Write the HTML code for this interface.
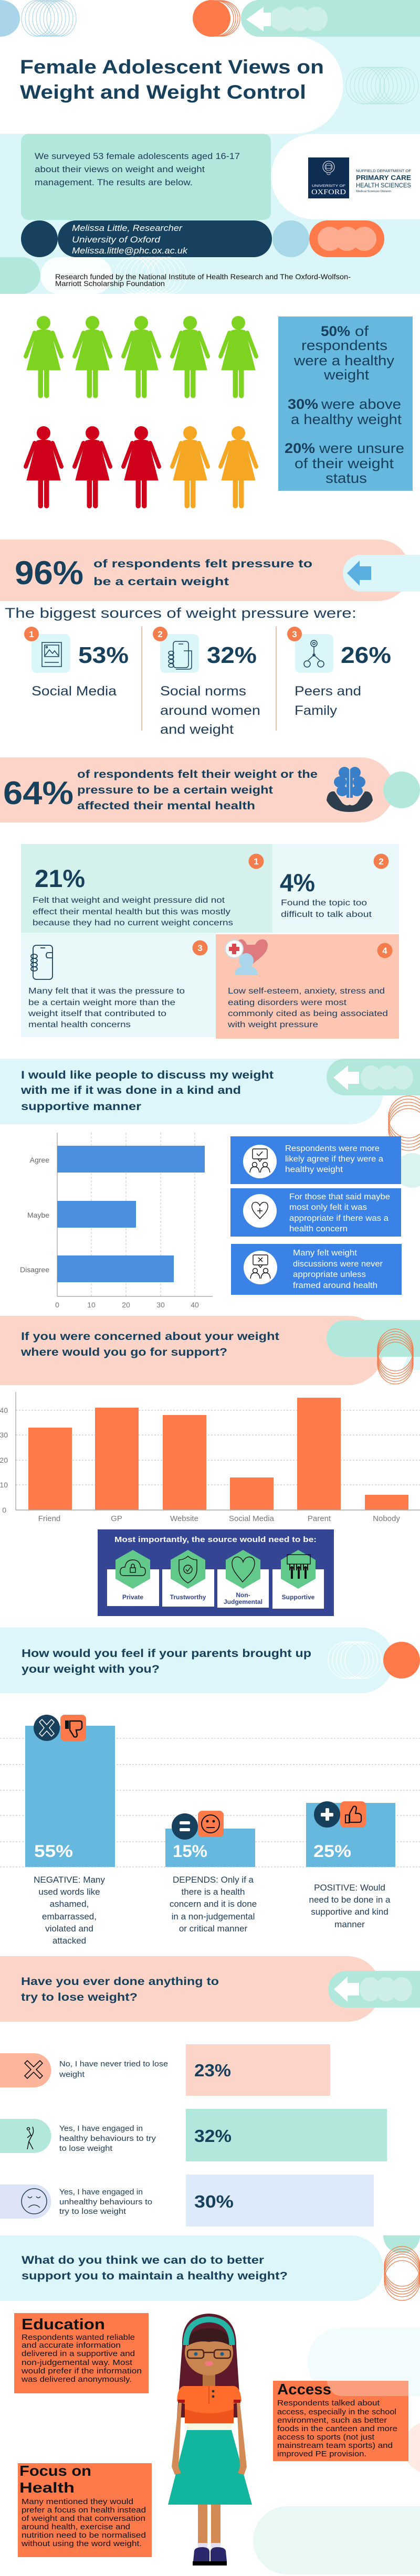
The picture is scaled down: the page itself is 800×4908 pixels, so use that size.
<!DOCTYPE html>
<html><head><meta charset="utf-8"><title>Female Adolescent Views on Weight and Weight Control</title>
<style>
html,body{margin:0;padding:0;background:#fff;}
svg{display:block;}
text{font-family:"Liberation Sans",sans-serif;}
.h{font-weight:700;fill:#17405c;}
.b{fill:#1e3c58;}
.w{fill:#fff;}
.k{fill:#111;}
</style></head><body>
<svg width="800" height="4908" viewBox="0 0 800 4908" xmlns="http://www.w3.org/2000/svg">
<rect x="0" y="0" width="800" height="4908" fill="#fff"/>

<!-- ===== TOP BAND ===== -->
<ellipse cx="0" cy="35" rx="38" ry="35" fill="#a8d5ea"/>
<g fill="none" stroke="#9fd0e7" stroke-width="1">
<ellipse cx="69" cy="35" rx="28" ry="34"/><ellipse cx="76" cy="35" rx="28" ry="34"/><ellipse cx="83" cy="35" rx="28" ry="34"/><ellipse cx="90" cy="35" rx="28" ry="34"/><ellipse cx="97" cy="35" rx="28" ry="34"/><ellipse cx="104" cy="35" rx="28" ry="34"/><ellipse cx="111" cy="35" rx="28" ry="34"/><ellipse cx="117" cy="35" rx="28" ry="34"/>
</g>
<g fill="none" stroke="#f47a4d" stroke-width="1.2">
<ellipse cx="421" cy="35" rx="36" ry="34"/><ellipse cx="417" cy="35" rx="36" ry="34"/><ellipse cx="413" cy="35" rx="36" ry="34"/><ellipse cx="409" cy="35" rx="36" ry="34"/>
</g>
<ellipse cx="403" cy="35" rx="36" ry="35" fill="#fe7a4a"/>
<path d="M494 0 H800 V70 H494 A35 35 0 0 1 494 0 Z" fill="#b2e7dc"/>
<g fill="#fff" opacity="0.35"><ellipse cx="536" cy="36" rx="22" ry="23"/><ellipse cx="569" cy="36" rx="22" ry="23"/><ellipse cx="602" cy="36" rx="22" ry="23"/></g>
<polygon points="469,37 502,13 502,24 516,24 516,50 502,50 502,60" fill="#fff"/>

<!-- ===== HEADER AREA ===== -->
<rect x="0" y="70" width="800" height="490" fill="#dbf6f8"/>
<path d="M0 70 H561 A92.5 92.5 0 0 1 561 255 H0 Z" fill="#fff"/>
<g fill="none" stroke="#b5e8de" stroke-width="1">
<ellipse cx="692" cy="163" rx="33" ry="35"/><ellipse cx="700" cy="163" rx="33" ry="35"/><ellipse cx="708" cy="163" rx="33" ry="35"/><ellipse cx="716" cy="163" rx="33" ry="35"/><ellipse cx="724" cy="163" rx="33" ry="35"/><ellipse cx="732" cy="163" rx="33" ry="35"/><ellipse cx="740" cy="163" rx="33" ry="35"/><ellipse cx="748" cy="163" rx="33" ry="35"/><ellipse cx="756" cy="163" rx="33" ry="35"/><ellipse cx="764" cy="163" rx="33" ry="35"/>
</g>
<text class="h" x="38" y="140" font-size="37" textLength="579" lengthAdjust="spacingAndGlyphs">Female Adolescent Views on</text>
<text class="h" x="38" y="188" font-size="37" textLength="545" lengthAdjust="spacingAndGlyphs">Weight and Weight Control</text>

<rect x="40" y="255" width="476" height="164" rx="14" fill="#b2e8dc"/>
<path d="M598 255 H800 V418 H598 A81.5 81.5 0 0 1 598 255 Z" fill="#fff"/>
<text class="b" x="66" y="303" font-size="17" textLength="391" lengthAdjust="spacingAndGlyphs">We surveyed 53 female adolescents aged 16-17</text>
<text class="b" x="66" y="328" font-size="17" textLength="324" lengthAdjust="spacingAndGlyphs">about their views on weight and weight</text>
<text class="b" x="66" y="353" font-size="17" textLength="301" lengthAdjust="spacingAndGlyphs">management.  The results are below.</text>

<!-- Oxford logo -->
<rect x="587" y="300" width="78" height="78" fill="#0f2c52"/>
<circle cx="626" cy="318" r="11" fill="none" stroke="#fff" stroke-width="1"/>
<circle cx="626" cy="318" r="7" fill="none" stroke="#fff" stroke-width="0.8"/>
<rect x="621" y="315" width="10" height="6" fill="none" stroke="#fff" stroke-width="0.8"/>
<path d="M622 330 Q626 336 630 330" fill="none" stroke="#fff" stroke-width="0.8"/>
<text class="w" x="594" y="356" font-size="6" textLength="64" lengthAdjust="spacingAndGlyphs">UNIVERSITY OF</text>
<text class="w" x="593" y="370" font-size="14" font-family="Liberation Serif,serif" style="font-family:'Liberation Serif',serif" textLength="66" lengthAdjust="spacingAndGlyphs">OXFORD</text>
<text x="678" y="328" font-size="7.5" fill="#17405c" textLength="105" lengthAdjust="spacingAndGlyphs">NUFFIELD DEPARTMENT OF</text>
<text x="678" y="343" font-size="13" font-weight="700" fill="#17405c" textLength="105" lengthAdjust="spacingAndGlyphs">PRIMARY CARE</text>
<text x="678" y="357" font-size="12" fill="#17405c" textLength="105" lengthAdjust="spacingAndGlyphs">HEALTH SCIENCES</text>
<text x="678" y="366" font-size="5.5" fill="#17405c" textLength="67" lengthAdjust="spacingAndGlyphs">Medical Sciences Division</text>

<!-- contact pill -->
<circle cx="75" cy="455" r="35" fill="#16415f"/>
<rect x="110" y="420" width="408" height="70" rx="35" fill="#16415f"/>
<circle cx="554" cy="455" r="35" fill="#a6d8ea"/>
<rect x="589" y="420" width="143" height="70" rx="35" fill="#fe7a4a"/>
<g fill="#ffb59c" opacity="0.85"><circle cx="628" cy="455" r="23"/><circle cx="661" cy="455" r="23"/><circle cx="694" cy="455" r="23"/></g>
<text class="w" x="137" y="440" font-size="17" font-style="italic" textLength="210" lengthAdjust="spacingAndGlyphs">Melissa Little, Researcher</text>
<text class="w" x="137" y="462" font-size="17" font-style="italic" textLength="168" lengthAdjust="spacingAndGlyphs">University of Oxford</text>
<text class="w" x="137" y="483" font-size="17" font-style="italic" textLength="220" lengthAdjust="spacingAndGlyphs">Melissa.little@phc.ox.ac.uk</text>

<rect x="-40" y="490" width="117" height="70" rx="35" fill="#b2e8dc"/>
<rect x="77" y="490" width="137" height="70" rx="35" fill="#fff" opacity="0.85"/>
<g fill="none" stroke="#fff" stroke-width="1">
<ellipse cx="252" cy="525" rx="33" ry="35"/><ellipse cx="262" cy="525" rx="33" ry="35"/><ellipse cx="272" cy="525" rx="33" ry="35"/><ellipse cx="282" cy="525" rx="33" ry="35"/><ellipse cx="292" cy="525" rx="33" ry="35"/><ellipse cx="302" cy="525" rx="33" ry="35"/><ellipse cx="312" cy="525" rx="33" ry="35"/><ellipse cx="322" cy="525" rx="33" ry="35"/>
</g>
<text x="105" y="532" font-size="14" fill="#111" textLength="563" lengthAdjust="spacingAndGlyphs">Research funded by the National Institute of Health Research and The Oxford-Wolfson-</text>
<text x="105" y="545" font-size="14" fill="#111" textLength="209" lengthAdjust="spacingAndGlyphs">Marriott Scholarship Foundation</text>

<!-- ===== WOMEN ===== -->
<defs>
<g id="woman">
<circle cx="0" cy="615" r="12.5"/>
<path d="M-13 630 Q0 626 13 630 L32 705 L-32 705 Z"/>
<line x1="-17" y1="634" x2="-34" y2="679" stroke-width="8" stroke-linecap="round"/>
<line x1="17" y1="634" x2="34" y2="679" stroke-width="8" stroke-linecap="round"/>
<rect x="-10" y="700" width="8.5" height="58" rx="4"/>
<rect x="1.5" y="700" width="8.5" height="58" rx="4"/>
</g>
</defs>
<g fill="#7ed321" stroke="#7ed321">
<use href="#woman" x="83"/><use href="#woman" x="176"/><use href="#woman" x="269"/><use href="#woman" x="362"/><use href="#woman" x="454"/>
</g>
<g fill="#d0021b" stroke="#d0021b">
<use href="#woman" x="83" y="210"/><use href="#woman" x="176" y="210"/><use href="#woman" x="269" y="210"/>
</g>
<g fill="#f5a623" stroke="#f5a623">
<use href="#woman" x="362" y="210"/><use href="#woman" x="454" y="210"/>
</g>

<rect x="530" y="603" width="256" height="332" fill="#67b8de"/>
<g fill="#17405c" font-size="27">
<text x="611" y="640" font-weight="700" textLength="56" lengthAdjust="spacingAndGlyphs">50%</text>
<text x="676" y="640" textLength="26" lengthAdjust="spacingAndGlyphs">of</text>
<text x="574" y="667" textLength="164" lengthAdjust="spacingAndGlyphs">respondents</text>
<text x="560" y="696" textLength="191" lengthAdjust="spacingAndGlyphs">were a healthy</text>
<text x="617" y="723" textLength="86" lengthAdjust="spacingAndGlyphs">weight</text>
<text x="548" y="779" font-weight="700" textLength="58" lengthAdjust="spacingAndGlyphs">30%</text>
<text x="612" y="779" textLength="152" lengthAdjust="spacingAndGlyphs">were above</text>
<text x="554" y="808" textLength="211" lengthAdjust="spacingAndGlyphs">a healthy weight</text>
<text x="542" y="863" font-weight="700" textLength="58" lengthAdjust="spacingAndGlyphs">20%</text>
<text x="608" y="863" textLength="162" lengthAdjust="spacingAndGlyphs">were unsure</text>
<text x="561" y="892" textLength="189" lengthAdjust="spacingAndGlyphs">of their weight</text>
<text x="620" y="920" textLength="79" lengthAdjust="spacingAndGlyphs">status</text>
</g>

<!-- ===== 96% BAND ===== -->
<path d="M0 1028 H721.5 A58.5 58.5 0 0 1 721.5 1145 H0 Z" fill="#fcd5c8"/>
<path d="M688 1057 H800 V1127 H688 A35 35 0 0 1 688 1057 Z" fill="#dbf6f8"/>
<polygon points="661,1092 685,1068 685,1079 707,1079 707,1105 685,1105 685,1116" fill="#5aaee0"/>
<text class="h" x="28" y="1113" font-size="63" textLength="131" lengthAdjust="spacingAndGlyphs">96%</text>
<text class="h" x="178" y="1081" font-size="21" textLength="417" lengthAdjust="spacingAndGlyphs">of respondents felt pressure to</text>
<text class="h" x="178" y="1115" font-size="21" textLength="258" lengthAdjust="spacingAndGlyphs">be a certain weight</text>

<text x="9" y="1177" font-size="27" fill="#1d3f5e" textLength="670" lengthAdjust="spacingAndGlyphs">The biggest sources of weight pressure were:</text>

<!-- sources -->
<line x1="270" y1="1193" x2="270" y2="1392" stroke="#f4a58a" stroke-width="1.5"/>
<line x1="526" y1="1193" x2="526" y2="1392" stroke="#f4a58a" stroke-width="1.5"/>
<rect x="60" y="1208" width="74" height="74" rx="10" fill="#dbf6f8"/>
<rect x="305" y="1208" width="74" height="74" rx="10" fill="#dbf6f8"/>
<rect x="562" y="1208" width="73" height="74" rx="10" fill="#dbf6f8"/>
<g fill="none" stroke="#17405c" stroke-width="1.5">
<rect x="80" y="1224" width="37" height="46"/>
<rect x="85" y="1229" width="27" height="22"/>
<polyline points="86,1249 94,1238 100,1245 104,1240 111,1249"/>
<circle cx="89" cy="1233" r="1.5"/>
<line x1="85" y1="1262" x2="112" y2="1262"/>
<rect x="330" y="1222" width="29" height="50" rx="5"/>
<line x1="340" y1="1227" x2="349" y2="1227"/>
<ellipse cx="326" cy="1244" rx="5" ry="3.5"/><ellipse cx="326" cy="1252" rx="5" ry="3.5"/><ellipse cx="326" cy="1260" rx="5" ry="3.5"/><ellipse cx="326" cy="1268" rx="5" ry="3.5"/>
<path d="M350 1240 H365 V1270 Q365 1275 360 1275 H335"/>
<circle cx="598" cy="1226" r="6"/>
<circle cx="598" cy="1226" r="2.5"/>
<line x1="598" y1="1232" x2="598" y2="1248"/>
<line x1="598" y1="1248" x2="587" y2="1258"/>
<line x1="598" y1="1248" x2="609" y2="1258"/>
<circle cx="598" cy="1248" r="2"/>
<circle cx="585" cy="1265" r="6"/><circle cx="611" cy="1265" r="6"/>
</g>
<g fill="#f47d4e"><circle cx="60" cy="1208" r="14"/><circle cx="305" cy="1208" r="14"/><circle cx="561" cy="1208" r="14"/></g>
<g class="w" font-size="17" font-weight="700" text-anchor="middle">
<text x="60" y="1214">1</text><text x="305" y="1214">2</text><text x="561" y="1214">3</text>
</g>
<text class="h" x="149" y="1263" font-size="44" textLength="96" lengthAdjust="spacingAndGlyphs">53%</text>
<text class="h" x="394" y="1263" font-size="44" textLength="95" lengthAdjust="spacingAndGlyphs">32%</text>
<text class="h" x="649" y="1263" font-size="44" textLength="96" lengthAdjust="spacingAndGlyphs">26%</text>
<g class="b" font-size="25">
<text x="60" y="1325" textLength="162" lengthAdjust="spacingAndGlyphs">Social Media</text>
<text x="305" y="1325" textLength="164" lengthAdjust="spacingAndGlyphs">Social norms</text>
<text x="305" y="1362" textLength="191" lengthAdjust="spacingAndGlyphs">around women</text>
<text x="305" y="1398" textLength="140" lengthAdjust="spacingAndGlyphs">and weight</text>
<text x="561" y="1325" textLength="127" lengthAdjust="spacingAndGlyphs">Peers and</text>
<text x="561" y="1362" textLength="81" lengthAdjust="spacingAndGlyphs">Family</text>
</g>

<!-- ===== 64% BAND ===== -->
<path d="M0 1443 H688 A62 62 0 0 1 688 1567 H0 Z" fill="#fcd5c8"/>
<circle cx="765" cy="1505" r="35" fill="#b2e7dc"/>
<text class="h" x="6" y="1532" font-size="62" textLength="134" lengthAdjust="spacingAndGlyphs">64%</text>
<text class="h" x="147" y="1482" font-size="21" textLength="458" lengthAdjust="spacingAndGlyphs">of respondents felt their weight or the</text>
<text class="h" x="147" y="1512" font-size="21" textLength="373" lengthAdjust="spacingAndGlyphs">pressure to be a certain weight</text>
<text class="h" x="147" y="1542" font-size="21" textLength="339" lengthAdjust="spacingAndGlyphs">affected their mental health</text>
<!-- brain -->
<g fill="#3a80c8">
<ellipse cx="656" cy="1472" rx="11" ry="11"/><ellipse cx="676" cy="1472" rx="11" ry="11"/>
<ellipse cx="648" cy="1490" rx="12" ry="11"/><ellipse cx="684" cy="1490" rx="12" ry="11"/>
<ellipse cx="652" cy="1507" rx="11" ry="10"/><ellipse cx="680" cy="1507" rx="11" ry="10"/>
<rect x="660" y="1470" width="12" height="50"/>
</g>
<line x1="666" y1="1465" x2="666" y2="1522" stroke="#dbe9f6" stroke-width="1.5"/>
<path d="M622 1525 Q624 1506 637 1508 L652 1530 Q660 1537 666 1533 Q672 1537 680 1530 L695 1508 Q708 1506 710 1525 Q700 1547 666 1547 Q632 1547 622 1525 Z" fill="#2e3d4c"/>

<!-- ===== QUAD ===== -->
<rect x="40" y="1608" width="479" height="169" fill="#d4f1ec"/>
<rect x="519" y="1608" width="241" height="169" fill="#e9f9fa"/>
<rect x="40" y="1777" width="371" height="199" fill="#e9f9fa"/>
<rect x="411" y="1780" width="349" height="199" fill="#fdc6b3"/>
<g fill="#f47d4e"><circle cx="488" cy="1641" r="14.5"/><circle cx="726" cy="1641" r="14.5"/><circle cx="381" cy="1806" r="14.5"/><circle cx="733" cy="1811" r="14.5"/></g>
<g class="w" font-size="17" font-weight="700" text-anchor="middle">
<text x="488" y="1647">1</text><text x="726" y="1647">2</text><text x="381" y="1812">3</text><text x="733" y="1817">4</text>
</g>
<text class="h" x="66" y="1690" font-size="47" textLength="96" lengthAdjust="spacingAndGlyphs">21%</text>
<text class="h" x="533" y="1698" font-size="47" textLength="67" lengthAdjust="spacingAndGlyphs">4%</text>
<g class="b" font-size="16">
<text x="62" y="1720" textLength="366" lengthAdjust="spacingAndGlyphs">Felt that weight and weight pressure did not</text>
<text x="62" y="1742" textLength="377" lengthAdjust="spacingAndGlyphs">effect their mental health but this was mostly</text>
<text x="62" y="1763" textLength="382" lengthAdjust="spacingAndGlyphs">because they had no current weight concerns</text>
<text x="535" y="1725" textLength="164" lengthAdjust="spacingAndGlyphs">Found the topic too</text>
<text x="535" y="1747" textLength="173" lengthAdjust="spacingAndGlyphs">difficult to talk about</text>
<text x="54" y="1893" textLength="298" lengthAdjust="spacingAndGlyphs">Many felt that it was the pressure to</text>
<text x="54" y="1915" textLength="280" lengthAdjust="spacingAndGlyphs">be a certain weight more than the</text>
<text x="54" y="1936" textLength="263" lengthAdjust="spacingAndGlyphs">weight itself that contributed to</text>
<text x="54" y="1957" textLength="195" lengthAdjust="spacingAndGlyphs">mental health concerns</text>
<text x="434" y="1893" textLength="299" lengthAdjust="spacingAndGlyphs">Low self-esteem, anxiety, stress and</text>
<text x="434" y="1915" textLength="226" lengthAdjust="spacingAndGlyphs">eating disorders were most</text>
<text x="434" y="1936" textLength="305" lengthAdjust="spacingAndGlyphs">commonly cited as being associated</text>
<text x="434" y="1957" textLength="172" lengthAdjust="spacingAndGlyphs">with weight pressure</text>
</g>
<!-- phone icon -->
<g fill="none" stroke="#17405c" stroke-width="1.8">
<rect x="63" y="1801" width="37" height="65" rx="6"/>
<line x1="77" y1="1806" x2="86" y2="1806"/>
<ellipse cx="65" cy="1822" rx="6" ry="4"/><ellipse cx="65" cy="1830" rx="6" ry="4"/><ellipse cx="65" cy="1838" rx="6" ry="4"/><ellipse cx="65" cy="1846" rx="6" ry="4"/>
<path d="M100 1815 H92 Q88 1815 88 1820 Q88 1825 92 1825 H100"/>
</g>
<!-- heart person icon -->
<path d="M470 1800 C466 1786 450 1786 452 1802 C454 1816 470 1826 482 1836 C494 1826 510 1816 510 1801 C510 1786 492 1786 486 1800 Z" fill="#df7a7e"/>
<circle cx="446" cy="1808" r="17" fill="#fff" stroke="#c9dde6" stroke-width="2"/>
<rect x="442" y="1798" width="8" height="20" fill="#d9474f"/>
<rect x="436" y="1804" width="20" height="8" fill="#d9474f"/>
<circle cx="469" cy="1830" r="14" fill="#a9d6ea"/>
<path d="M447 1858 Q447 1840 469 1840 Q491 1840 491 1858 Z" fill="#a9d6ea"/>

<!-- ===== DISCUSS SECTION ===== -->
<path d="M0 2017 H667.5 A62.5 62.5 0 0 1 667.5 2142 H0 Z" fill="#dcf6f9"/>
<path d="M657 2017 H800 V2087 H657 A35 35 0 0 1 657 2017 Z" fill="#b2e7dc"/>
<g fill="#fff" opacity="0.35"><ellipse cx="707" cy="2053" rx="20" ry="23"/><ellipse cx="737" cy="2053" rx="20" ry="23"/><ellipse cx="767" cy="2053" rx="20" ry="23"/></g>
<polygon points="635,2053 663,2030 663,2042 684,2042 684,2065 663,2065 663,2077" fill="#fff"/>
<g fill="none" stroke="#f47a4a" stroke-width="1.3">
<ellipse cx="778" cy="2128" rx="38" ry="40"/><ellipse cx="778" cy="2134" rx="38" ry="40"/><ellipse cx="778" cy="2140" rx="38" ry="40"/><ellipse cx="778" cy="2146" rx="38" ry="40"/><ellipse cx="778" cy="2152" rx="38" ry="40"/>
</g>
<text class="h" x="40" y="2055" font-size="21" textLength="481" lengthAdjust="spacingAndGlyphs">I would like people to discuss my weight</text>
<text class="h" x="40" y="2084" font-size="21" textLength="419" lengthAdjust="spacingAndGlyphs">with me if it was done in a kind and</text>
<text class="h" x="40" y="2115" font-size="21" textLength="229" lengthAdjust="spacingAndGlyphs">supportive manner</text>

<!-- chart 1 -->
<g stroke="#c4c4c4" stroke-width="1" stroke-dasharray="4 3">
<line x1="174" y1="2158" x2="174" y2="2470"/><line x1="240" y1="2158" x2="240" y2="2470"/><line x1="306" y1="2158" x2="306" y2="2470"/><line x1="371" y1="2158" x2="371" y2="2470"/>
</g>
<g fill="#4a8ee0">
<rect x="109" y="2183" width="281" height="51"/>
<rect x="109" y="2288" width="150" height="51"/>
<rect x="109" y="2392" width="222" height="51"/>
</g>
<line x1="109" y1="2158" x2="109" y2="2470" stroke="#888" stroke-width="1"/>
<line x1="109" y1="2470" x2="405" y2="2470" stroke="#888" stroke-width="1"/>
<g fill="#666" font-size="14" text-anchor="end">
<text x="94" y="2215">Agree</text><text x="94" y="2320">Maybe</text><text x="94" y="2424">Disagree</text>
</g>
<g fill="#777" font-size="14" text-anchor="middle">
<text x="109" y="2491">0</text><text x="174" y="2491">10</text><text x="240" y="2491">20</text><text x="306" y="2491">30</text><text x="371" y="2491">40</text>
</g>
<circle cx="785" cy="2230" r="33" fill="#d9f3ef"/>
<g fill="#3a82e6">
<rect x="439" y="2165" width="325" height="91"/>
<rect x="439" y="2264" width="325" height="92"/>
<rect x="440" y="2370" width="325" height="97"/>
</g>
<g fill="#fff"><circle cx="495" cy="2213" r="32"/><circle cx="495" cy="2307" r="32"/><circle cx="496" cy="2415" r="32"/></g>
<g fill="none" stroke="#111" stroke-width="1.4">
<rect x="481" y="2189" width="28" height="19" rx="2"/><path d="M491 2208 L495 2213 L499 2208"/>
<polyline points="489,2198 493,2202 500,2194"/>
<circle cx="485" cy="2219" r="4.5"/><path d="M476 2234 Q477 2223 485 2223 Q493 2223 494 2234"/>
<circle cx="505" cy="2219" r="4.5"/><path d="M496 2234 Q497 2223 505 2223 Q513 2223 514 2234"/>
<path d="M495 2297 C491 2287 478 2289 480 2301 C482 2310 490 2316 495 2322 C500 2316 508 2310 510 2301 C512 2289 499 2287 495 2297 Z"/>
<line x1="495" y1="2302" x2="495" y2="2312"/><line x1="490" y1="2307" x2="500" y2="2307"/>
<rect x="482" y="2391" width="28" height="19" rx="2"/><path d="M492 2410 L496 2415 L500 2410"/>
<line x1="492" y1="2396" x2="500" y2="2404"/><line x1="500" y1="2396" x2="492" y2="2404"/>
<circle cx="486" cy="2421" r="4.5"/><path d="M477 2436 Q478 2425 486 2425 Q494 2425 495 2436"/>
<circle cx="506" cy="2421" r="4.5"/><path d="M497 2436 Q498 2425 506 2425 Q514 2425 515 2436"/>
</g>
<g class="w" font-size="15.5">
<text x="543" y="2193" textLength="180" lengthAdjust="spacingAndGlyphs">Respondents were more</text>
<text x="543" y="2213" textLength="187" lengthAdjust="spacingAndGlyphs">likely agree if they were a</text>
<text x="543" y="2233" textLength="110" lengthAdjust="spacingAndGlyphs">healthy weight</text>
<text x="551" y="2285" textLength="192" lengthAdjust="spacingAndGlyphs">For those that said maybe</text>
<text x="551" y="2305" textLength="148" lengthAdjust="spacingAndGlyphs">most only felt it was</text>
<text x="551" y="2326" textLength="189" lengthAdjust="spacingAndGlyphs">appropriate if there was a</text>
<text x="551" y="2346" textLength="111" lengthAdjust="spacingAndGlyphs">health concern</text>
<text x="558" y="2392" textLength="122" lengthAdjust="spacingAndGlyphs">Many felt weight</text>
<text x="558" y="2413" textLength="171" lengthAdjust="spacingAndGlyphs">discussions were never</text>
<text x="558" y="2433" textLength="139" lengthAdjust="spacingAndGlyphs">appropriate unless</text>
<text x="558" y="2454" textLength="161" lengthAdjust="spacingAndGlyphs">framed around health</text>
</g>

<!-- ===== SUPPORT SECTION ===== -->
<path d="M0 2507 H664 A66 66 0 0 1 664 2639 H0 Z" fill="#fcd5c8"/>
<path d="M657 2515 H800 V2585 H657 A35 35 0 0 1 657 2515 Z" fill="#b2e7dc"/>
<path d="M776 2585 L800 2585 L800 2610 L766 2610 Z" fill="#dcf6f9"/>
<g fill="none" stroke="#f47a4a" stroke-width="1.3">
<ellipse cx="753" cy="2572" rx="34" ry="40"/><ellipse cx="753" cy="2577" rx="34" ry="40"/><ellipse cx="753" cy="2582" rx="34" ry="40"/><ellipse cx="753" cy="2587" rx="34" ry="40"/><ellipse cx="753" cy="2592" rx="34" ry="40"/><ellipse cx="753" cy="2597" rx="34" ry="40"/>
</g>
<text class="h" x="40" y="2553" font-size="21" textLength="492" lengthAdjust="spacingAndGlyphs">If you were concerned about your weight</text>
<text class="h" x="40" y="2583" font-size="21" textLength="393" lengthAdjust="spacingAndGlyphs">where would you go for support?</text>

<!-- chart 2 -->
<g stroke="#c8c8c8" stroke-width="1.3" stroke-dasharray="3 3">
<line x1="30" y1="2687" x2="800" y2="2687"/><line x1="30" y1="2734" x2="800" y2="2734"/><line x1="30" y1="2782" x2="800" y2="2782"/><line x1="30" y1="2829" x2="800" y2="2829"/>
</g>
<g fill="#fe7a4a">
<rect x="54" y="2720" width="83" height="157"/>
<rect x="181" y="2682" width="83" height="195"/>
<rect x="310" y="2696" width="83" height="181"/>
<rect x="438" y="2815" width="83" height="62"/>
<rect x="566" y="2663" width="83" height="214"/>
<rect x="695" y="2848" width="83" height="29"/>
</g>
<line x1="30" y1="2877" x2="800" y2="2877" stroke="#a8a8a8" stroke-width="1.5"/>
<line x1="30" y1="2652" x2="30" y2="2877" stroke="#888" stroke-width="1"/>
<g fill="#777" font-size="14" text-anchor="end">
<text x="15" y="2692">40</text><text x="15" y="2739">30</text><text x="15" y="2787">20</text><text x="15" y="2834">10</text><text x="12" y="2882">0</text>
</g>
<g fill="#777" font-size="15" text-anchor="middle">
<text x="94" y="2898">Friend</text><text x="222" y="2898">GP</text><text x="351" y="2898">Website</text><text x="479" y="2898">Social Media</text><text x="608" y="2898">Parent</text><text x="736" y="2898">Nobody</text>
</g>

<!-- most importantly -->
<rect x="186" y="2914" width="450" height="165" fill="#334593"/>
<text class="w" x="218" y="2938" font-size="15" font-weight="700" textLength="385" lengthAdjust="spacingAndGlyphs">Most importantly, the source would need to be:</text>
<g fill="#fff">
<rect x="204" y="2990" width="99" height="70"/><rect x="309" y="2990" width="99" height="71"/><rect x="414" y="2990" width="98" height="73"/><rect x="519" y="2990" width="98" height="75"/>
</g>
<g fill="#62c98b">
<polygon points="253,2953 286,2972 286,3008 253,3027 220,3008 220,2972"/>
<polygon points="358,2953 391,2972 391,3008 358,3027 325,3008 325,2972"/>
<polygon points="463,2953 496,2972 496,3008 463,3027 430,3008 430,2972"/>
<polygon points="568,2953 601,2972 601,3008 568,3027 535,3008 535,2972"/>
</g>
<g fill="none" stroke="#111" stroke-width="1.4">
<path d="M236 3002 Q228 3002 229 2993 Q230 2985 238 2986 Q240 2972 253 2972 Q266 2972 268 2986 Q277 2985 277 2994 Q277 3002 270 3002 Z"/>
<rect x="248" y="2987" width="10" height="9"/><path d="M250 2987 V2983 A3 3 0 0 1 256 2983 V2987"/>
<path d="M358 2965 Q366 2972 375 2972 V2990 Q375 3006 358 3016 Q341 3006 341 2990 V2972 Q350 2972 358 2965 Z"/>
<circle cx="358" cy="2990" r="8"/><polyline points="354,2990 357,2994 363,2986"/>
<path d="M463 2976 C459 2962 441 2963 442 2980 C443 2995 456 3005 462 3014 C470 3005 485 2993 485 2978 C485 2963 467 2963 463 2976 Z"/>
<rect x="547" y="2962" width="44" height="18"/>
</g>
<g fill="#111">
<circle cx="556" cy="2987" r="3"/><circle cx="569" cy="2987" r="3"/><circle cx="582" cy="2987" r="3"/>
<rect x="554" y="2990" width="4" height="18"/><rect x="567" y="2990" width="4" height="18"/><rect x="580" y="2990" width="4" height="18"/>
<rect x="551" y="2980" width="2" height="12"/><rect x="559" y="2980" width="2" height="12"/><rect x="564" y="2980" width="2" height="12"/><rect x="572" y="2980" width="2" height="12"/><rect x="577" y="2980" width="2" height="12"/><rect x="585" y="2980" width="2" height="12"/>
</g>
<g fill="#334593" font-size="12" font-weight="700" text-anchor="middle">
<text x="253" y="3047">Private</text><text x="358" y="3047">Trustworthy</text><text x="463" y="3043">Non-</text><text x="463" y="3056">Judgemental</text><text x="568" y="3047">Supportive</text>
</g>

<!-- ===== PARENTS SECTION ===== -->
<path d="M0 3101 H687.5 A62.5 62.5 0 0 1 687.5 3226 H0 Z" fill="#dcf6f9"/>
<g fill="none" stroke="#fff" stroke-width="1.2">
<ellipse cx="660" cy="3163" rx="35" ry="35"/><ellipse cx="668" cy="3163" rx="35" ry="35"/><ellipse cx="676" cy="3163" rx="35" ry="35"/><ellipse cx="684" cy="3163" rx="35" ry="35"/><ellipse cx="692" cy="3163" rx="35" ry="35"/>
</g>
<ellipse cx="765" cy="3163" rx="35" ry="35" fill="#fe7a4a"/>
<text class="h" x="41" y="3157" font-size="21" textLength="552" lengthAdjust="spacingAndGlyphs">How would you feel if your parents brought up</text>
<text class="h" x="41" y="3187" font-size="21" textLength="263" lengthAdjust="spacingAndGlyphs">your weight with you?</text>

<g stroke="#c8c8c8" stroke-width="1.2" stroke-dasharray="3 3">
<line x1="0" y1="3312" x2="800" y2="3312"/><line x1="0" y1="3362" x2="800" y2="3362"/><line x1="0" y1="3411" x2="800" y2="3411"/><line x1="0" y1="3459" x2="800" y2="3459"/><line x1="0" y1="3509" x2="800" y2="3509"/><line x1="0" y1="3557" x2="800" y2="3557"/>
</g>
<g fill="#67b8de">
<rect x="48" y="3288" width="171" height="269"/>
<rect x="315" y="3484" width="171" height="73"/>
<rect x="583" y="3435" width="170" height="122"/>
</g>
<!-- icons -->
<ellipse cx="89" cy="3292" rx="25" ry="25" fill="#17405c"/>
<polygon points="75,3281 80,3276 89,3286 98,3276 103,3281 94,3292 103,3303 98,3308 89,3298 80,3308 75,3303 84,3292" fill="none" stroke="#fff" stroke-width="1.5"/>
<rect x="115" y="3267" width="49" height="50" rx="8" fill="#fe7a4a"/>
<rect x="124" y="3278" width="7" height="16" fill="#111"/>
<path d="M133 3279 H152 Q156 3279 156 3283 V3292 Q154 3296 150 3296 H145 L147 3306 Q146 3311 141 3309 L133 3296 Z" fill="none" stroke="#111" stroke-width="2.5"/>
<ellipse cx="352" cy="3480" rx="25" ry="25" fill="#17405c"/>
<rect x="342" y="3470" width="20" height="6" rx="2" fill="#fff"/><rect x="342" y="3483" width="20" height="6" rx="2" fill="#fff"/>
<rect x="377" y="3450" width="49" height="50" rx="8" fill="#fe7a4a"/>
<circle cx="401" cy="3475" r="17" fill="none" stroke="#111" stroke-width="2"/>
<circle cx="395" cy="3470" r="2.5" fill="#111"/><circle cx="407" cy="3470" r="2.5" fill="#111"/>
<line x1="393" y1="3482" x2="409" y2="3482" stroke="#111" stroke-width="2"/>
<ellipse cx="623" cy="3457" rx="25" ry="25" fill="#17405c"/>
<rect x="620" y="3445" width="7" height="24" rx="2" fill="#fff"/><rect x="611" y="3454" width="24" height="7" rx="2" fill="#fff"/>
<rect x="648" y="3432" width="49" height="50" rx="8" fill="#fe7a4a"/>
<rect x="658" y="3458" width="7" height="15" fill="none" stroke="#111" stroke-width="2"/>
<path d="M666 3472 H684 Q688 3472 688 3468 V3459 Q686 3455 682 3455 H677 L679 3445 Q678 3440 673 3442 L666 3455 Z" fill="none" stroke="#111" stroke-width="2.2"/>
<g class="w" font-size="32" font-weight="700">
<text x="65" y="3538" textLength="74" lengthAdjust="spacingAndGlyphs">55%</text>
<text x="329" y="3538" textLength="66" lengthAdjust="spacingAndGlyphs">15%</text>
<text x="597" y="3538" textLength="72" lengthAdjust="spacingAndGlyphs">25%</text>
</g>
<g class="b" font-size="17" text-anchor="middle">
<text x="132" y="3587">NEGATIVE: Many</text>
<text x="132" y="3610">used words like</text>
<text x="132" y="3633">ashamed,</text>
<text x="132" y="3657">embarrassed,</text>
<text x="132" y="3680">violated and</text>
<text x="132" y="3703">attacked</text>
<text x="406" y="3587">DEPENDS: Only if a</text>
<text x="406" y="3610">there is a health</text>
<text x="406" y="3633">concern and it is done</text>
<text x="406" y="3657">in a non-judgemental</text>
<text x="406" y="3680">or critical manner</text>
<text x="666" y="3602">POSITIVE: Would</text>
<text x="666" y="3625">need to be done in a</text>
<text x="666" y="3648">supportive and kind</text>
<text x="666" y="3672">manner</text>
</g>

<!-- ===== LOSE WEIGHT SECTION ===== -->
<path d="M0 3727 H662.5 A62.5 62.5 0 0 1 662.5 3852 H0 Z" fill="#fcd5c8"/>
<path d="M660 3755 H800 V3825 H660 A35 35 0 0 1 660 3755 Z" fill="#b2e7dc"/>
<g fill="#fff" opacity="0.35"><ellipse cx="705" cy="3790" rx="20" ry="23"/><ellipse cx="735" cy="3790" rx="20" ry="23"/><ellipse cx="765" cy="3790" rx="20" ry="23"/></g>
<polygon points="636,3790 662,3766 662,3778 684,3778 684,3802 662,3802 662,3814" fill="#fff"/>
<text class="h" x="40" y="3782" font-size="21" textLength="377" lengthAdjust="spacingAndGlyphs">Have you ever done anything to</text>
<text class="h" x="40" y="3812" font-size="21" textLength="222" lengthAdjust="spacingAndGlyphs">try to lose weight?</text>

<path d="M0 3912 H65 A32.5 32.5 0 0 1 65 3977 H0 Z" fill="#fcb59b"/>
<path d="M0 4037 H65 A32.5 32.5 0 0 1 65 4102 H0 Z" fill="#b2e8dc"/>
<path d="M0 4162 H65 A32.5 32.5 0 0 1 65 4227 H0 Z" fill="#dde3f6"/>
<rect x="354" y="3895" width="275" height="98" fill="#fcd5c8"/>
<rect x="354" y="4018" width="383" height="100" fill="#b2e8dc"/>
<rect x="354" y="4143" width="358" height="99" fill="#dceafa"/>
<polygon points="47,3931 52,3926 64,3938 76,3926 81,3931 69,3943 81,3955 76,3960 64,3948 52,3960 47,3955 59,3943" fill="none" stroke="#111" stroke-width="1.6"/>
<g fill="none" stroke="#111" stroke-width="1.5">
<circle cx="54" cy="4056" r="2.5"/>
<path d="M55 4060 L60 4070 L55 4080 L52 4095"/><path d="M55 4080 L63 4095"/>
<path d="M60 4070 Q66 4062 62 4052"/><path d="M58 4068 L52 4073"/>
<circle cx="65" cy="4194" r="24" stroke="#1e3c58"/>
<path d="M53 4185 Q57 4190 61 4185 M69 4185 Q73 4190 77 4185" stroke="#1e3c58"/>
<path d="M54 4206 Q65 4196 76 4206" stroke="#1e3c58"/>
</g>
<g class="b" font-size="15">
<text x="113" y="3937" textLength="207" lengthAdjust="spacingAndGlyphs">No, I have never tried to lose</text>
<text x="113" y="3957" textLength="48" lengthAdjust="spacingAndGlyphs">weight</text>
<text x="113" y="4060" textLength="159" lengthAdjust="spacingAndGlyphs">Yes, I have engaged in</text>
<text x="113" y="4079" textLength="184" lengthAdjust="spacingAndGlyphs">healthy behaviours to try</text>
<text x="113" y="4098" textLength="101" lengthAdjust="spacingAndGlyphs">to lose weight</text>
<text x="113" y="4181" textLength="159" lengthAdjust="spacingAndGlyphs">Yes, I have engaged in</text>
<text x="113" y="4200" textLength="177" lengthAdjust="spacingAndGlyphs">unhealthy behaviours to</text>
<text x="113" y="4218" textLength="127" lengthAdjust="spacingAndGlyphs">try to lose weight</text>
</g>
<g class="h" font-size="33">
<text x="370" y="3956" textLength="70" lengthAdjust="spacingAndGlyphs">23%</text>
<text x="370" y="4081" textLength="71" lengthAdjust="spacingAndGlyphs">32%</text>
<text x="370" y="4206" textLength="75" lengthAdjust="spacingAndGlyphs">30%</text>
</g>

<!-- ===== SUPPORT HEALTHY WEIGHT SECTION ===== -->
<path d="M0 4259 H667.5 A62.5 62.5 0 0 1 667.5 4384 H0 Z" fill="#dcf6f9"/>
<path d="M730 4259 H800 A35 35 0 0 1 730 4259 Z" fill="#b2e7dc"/>
<g fill="none" stroke="#f47a4a" stroke-width="1.3">
<ellipse cx="766" cy="4318" rx="34" ry="38"/><ellipse cx="766" cy="4323" rx="34" ry="38"/><ellipse cx="766" cy="4328" rx="34" ry="38"/><ellipse cx="766" cy="4333" rx="34" ry="38"/><ellipse cx="766" cy="4338" rx="34" ry="38"/><ellipse cx="766" cy="4345" rx="34" ry="38"/>
</g>
<text class="h" x="41" y="4313" font-size="21" textLength="462" lengthAdjust="spacingAndGlyphs">What do you think we can do to better</text>
<text class="h" x="41" y="4343" font-size="21" textLength="507" lengthAdjust="spacingAndGlyphs">support you to maintain a healthy weight?</text>

<path d="M650 4435 H800 V4565 H650 A65 65 0 0 1 650 4435 Z" fill="#f3fcfd"/>
<path d="M547 4775 H800 V4905 H547 A65 65 0 0 1 547 4775 Z" fill="#eaf8f5"/>
<circle cx="818" cy="4663" r="50" fill="#fdeae3"/>

<rect x="27" y="4407" width="256" height="153" fill="#fe7a4a"/>
<text class="k" x="41" y="4438" font-size="29" font-weight="700" textLength="159" lengthAdjust="spacingAndGlyphs">Education</text>
<g class="k" font-size="15">
<text x="41" y="4458" textLength="216" lengthAdjust="spacingAndGlyphs">Respondents wanted reliable</text>
<text x="41" y="4473" textLength="189" lengthAdjust="spacingAndGlyphs">and accurate information</text>
<text x="41" y="4489" textLength="216" lengthAdjust="spacingAndGlyphs">delivered in a supportive and</text>
<text x="41" y="4506" textLength="211" lengthAdjust="spacingAndGlyphs">non-judgemental way.  Most</text>
<text x="41" y="4522" textLength="229" lengthAdjust="spacingAndGlyphs">would prefer if the information</text>
<text x="41" y="4538" textLength="210" lengthAdjust="spacingAndGlyphs">was delivered anonymously.</text>
</g>

<rect x="520" y="4536" width="258" height="153" fill="#fe7a4a"/>
<path d="M650 4536 H778 V4565 H650 Q630 4565 622 4536 Z" fill="#f8a384" opacity="0.9"/>
<text class="k" x="528" y="4562" font-size="29" font-weight="700" textLength="103" lengthAdjust="spacingAndGlyphs">Access</text>
<g class="k" font-size="15">
<text x="528" y="4583" textLength="195" lengthAdjust="spacingAndGlyphs">Respondents talked about</text>
<text x="528" y="4600" textLength="227" lengthAdjust="spacingAndGlyphs">access, especially in the school</text>
<text x="528" y="4616" textLength="209" lengthAdjust="spacingAndGlyphs">environment, such as better</text>
<text x="528" y="4632" textLength="229" lengthAdjust="spacingAndGlyphs">foods in the canteen and more</text>
<text x="528" y="4648" textLength="185" lengthAdjust="spacingAndGlyphs">access to sports (not just</text>
<text x="528" y="4664" textLength="220" lengthAdjust="spacingAndGlyphs">mainstream team sports) and</text>
<text x="528" y="4680" textLength="170" lengthAdjust="spacingAndGlyphs">improved PE provision.</text>
</g>

<rect x="34" y="4693" width="255" height="179" fill="#fe7a4a"/>
<text class="k" x="37" y="4717" font-size="28" font-weight="700" textLength="137" lengthAdjust="spacingAndGlyphs">Focus on</text>
<text class="k" x="37" y="4749" font-size="28" font-weight="700" textLength="105" lengthAdjust="spacingAndGlyphs">Health</text>
<g class="k" font-size="15">
<text x="41" y="4771" textLength="213" lengthAdjust="spacingAndGlyphs">Many mentioned they would</text>
<text x="41" y="4787" textLength="237" lengthAdjust="spacingAndGlyphs">prefer a focus on health instead</text>
<text x="41" y="4803" textLength="236" lengthAdjust="spacingAndGlyphs">of weight and that conversation</text>
<text x="41" y="4819" textLength="207" lengthAdjust="spacingAndGlyphs">around health, exercise and</text>
<text x="41" y="4835" textLength="237" lengthAdjust="spacingAndGlyphs">nutrition need to be normalised</text>
<text x="41" y="4851" textLength="229" lengthAdjust="spacingAndGlyphs">without using the word weight.</text>
</g>

<!-- girl -->
<path d="M347 4470 Q345 4410 398 4408 Q451 4410 450 4470 L459 4606 L337 4606 Z" fill="#5e1a2a"/>
<rect x="386" y="4520" width="24" height="26" fill="#b8743f"/>
<ellipse cx="398" cy="4482" rx="46" ry="44" fill="#c9844f"/>
<path d="M356 4470 Q358 4436 398 4436 Q438 4436 440 4470 Q420 4458 398 4462 Q376 4458 356 4470 Z" fill="#3a1a1c"/>
<path d="M354 4468 Q354 4421 398 4419 Q442 4421 442 4468" fill="none" stroke="#26b5a7" stroke-width="11"/>
<rect x="357" y="4477" width="31" height="16" rx="5" fill="none" stroke="#4a2418" stroke-width="2.5"/>
<rect x="408" y="4477" width="31" height="16" rx="5" fill="none" stroke="#4a2418" stroke-width="2.5"/>
<line x1="388" y1="4482" x2="408" y2="4482" stroke="#4a2418" stroke-width="2.5"/>
<circle cx="373" cy="4485" r="3.5" fill="#1d5d8a"/><circle cx="423" cy="4485" r="3.5" fill="#1d5d8a"/>
<ellipse cx="398" cy="4503" rx="8" ry="5" fill="#f07a80"/>
<path d="M350 4546 Q338 4548 337 4575 L352 4580 L352 4617 L445 4617 L445 4580 L460 4575 Q458 4548 446 4546 Z" fill="#fe6d2c"/>
<path d="M352 4590 Q398 4606 445 4590 L445 4617 L352 4617 Z" fill="#f0551d"/>
<line x1="398" y1="4546" x2="398" y2="4580" stroke="#c2410e" stroke-width="1.2"/>
<circle cx="406" cy="4556" r="2.5" fill="#333"/><circle cx="406" cy="4566" r="2.5" fill="#333"/>
<rect x="339" y="4572" width="13" height="6" fill="#b0121a"/><rect x="445" y="4572" width="13" height="6" fill="#b0121a"/>
<rect x="356" y="4617" width="85" height="13" fill="#fbf6e0"/>
<polygon points="356,4630 441,4630 480,4772 320,4772" fill="#12b59d"/>
<path d="M340 4578 L346 4578 L340 4700 L345 4712 L333 4715 L327 4700 Z" fill="#d38a55"/>
<path d="M451 4578 L457 4578 L470 4700 L465 4715 L453 4712 L457 4700 Z" fill="#d38a55"/>
<rect x="377" y="4772" width="18" height="76" fill="#d38a55"/>
<rect x="402" y="4772" width="18" height="76" fill="#d38a55"/>
<rect x="377" y="4845" width="18" height="9" fill="#e4def5"/><rect x="402" y="4845" width="18" height="9" fill="#e4def5"/>
<path d="M368 4880 L370 4860 Q372 4853 385 4853 Q399 4853 399 4862 L399 4880 Z" fill="#2b296b"/>
<path d="M401 4880 L401 4862 Q401 4853 414 4853 Q428 4853 430 4860 L432 4880 Z" fill="#2b296b"/>
<rect x="367" y="4880" width="65" height="8" fill="#000"/>
</svg>
</body></html>
